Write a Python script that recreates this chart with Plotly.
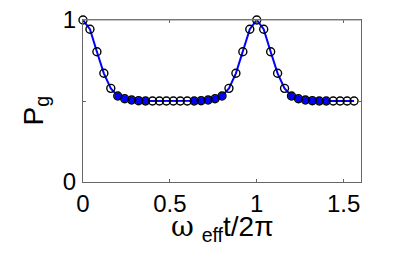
import plotly.graph_objects as go

t_vals = [0.00, 0.04, 0.08, 0.12, 0.16, 0.20, 0.24, 0.28, 0.32, 0.36,
          0.40, 0.44, 0.48, 0.52, 0.56, 0.60, 0.64, 0.68, 0.72, 0.76,
          0.80, 0.84, 0.88, 0.92, 0.96, 1.00, 1.04, 1.08, 1.12, 1.16,
          1.20, 1.24, 1.28, 1.32, 1.36, 1.40, 1.44, 1.48, 1.52, 1.56]
pg_vals = [1.000, 0.943, 0.804, 0.671, 0.578, 0.531, 0.514, 0.506, 0.502, 0.500,
           0.500, 0.500, 0.500, 0.500, 0.500, 0.500, 0.500, 0.502, 0.506, 0.514,
           0.531, 0.578, 0.671, 0.804, 0.943, 1.000, 0.943, 0.804, 0.671, 0.578,
           0.531, 0.514, 0.506, 0.502, 0.500, 0.500, 0.500, 0.500, 0.500, 0.500]
filled = [0, 0, 0, 0, 0, 1, 1, 1, 1, 1,
          0, 0, 0, 0, 0, 0, 1, 1, 1, 1,
          1, 0, 0, 0, 0, 0, 0, 0, 0, 0,
          1, 1, 1, 1, 1, 1, 0, 0, 0, 0]

x_ticks = [0, 0.5, 1, 1.5]
x_ticklabels = ["0", "0.5", "1", "1.5"]
y_ticks = [0, 1]
y_ticklabels = ["0", "1"]

fx = [t for t, f in zip(t_vals, filled) if f]
fy = [p for p, f in zip(pg_vals, filled) if f]

fig = go.Figure()
fig.add_trace(go.Scatter(x=fx, y=fy, mode="markers",
                         marker=dict(symbol="circle", size=7, color="#0000ff",
                                     line=dict(width=0)),
                         showlegend=False, hoverinfo="skip"))
fig.add_trace(go.Scatter(x=t_vals, y=pg_vals, mode="lines",
                         line=dict(color="#0000ff", width=2),
                         showlegend=False))
fig.add_trace(go.Scatter(x=t_vals, y=pg_vals, mode="markers",
                         marker=dict(symbol="circle-open", size=8, color="black",
                                     line=dict(width=1.4, color="black")),
                         showlegend=False, cliponaxis=False))

axis_common = dict(showgrid=False, zeroline=False, showline=True, linecolor="#666666",
                   linewidth=1, mirror="ticks", ticks="inside", ticklen=3,
                   tickcolor="#666666", automargin=False, layer="above traces",
                   tickfont=dict(family="Liberation Sans, Arial", size=24, color="black"))

fig.update_layout(
    width=399, height=265,
    margin=dict(l=83, r=38, t=20, b=83),
    paper_bgcolor="white", plot_bgcolor="white",
    xaxis=dict(range=[0, 1.6], tickvals=x_ticks, ticktext=x_ticklabels, **axis_common),
    yaxis=dict(range=[0, 1], tickvals=y_ticks, ticktext=y_ticklabels,
               ticklabelstandoff=1,
               minor=dict(tickvals=[0.5], ticks="inside", ticklen=3, tickcolor="#666666"),
               **axis_common),
    annotations=[
        dict(text="<span style='font-family:DejaVu Serif'>ω</span> <sub>eff</sub>t/2π",
             x=0.5, xref="paper", y=-0.16, yref="paper", xanchor="center", yanchor="top",
             showarrow=False, font=dict(family="Liberation Sans, Arial", size=28, color="black")),
        dict(text="P<sub>g</sub>", textangle=-90,
             x=-0.17, xref="paper", y=0.44, yref="paper", xanchor="center",
             showarrow=False, font=dict(family="Liberation Sans, Arial", size=28, color="black")),
    ],
    shapes=[dict(type="line", xref="paper", yref="paper", x0=0, x1=1, y0=1, y1=1,
                 line=dict(color="#888888", width=1), layer="above")],
)
fig.write_html("out.html", config={"displayModeBar": False},
               post_script="document.body.style.margin='0';")
